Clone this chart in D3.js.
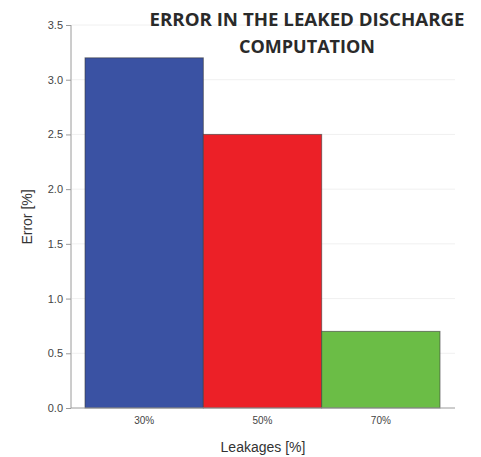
<!DOCTYPE html>
<html lang="en">
<head>
    <meta charset="UTF-8">
    <title>Error in the leaked discharge computation</title>
    <script type="text/javascript" src="https://d3js.org/d3.v7.min.js"></script>
    <style>
        body { margin: 0; background: #fff; }
    </style>
</head>
<body>
    <svg width="481" height="457"></svg>
    <script>
        // chart data
        var leakages = ["30%", "50%", "70%"];
        var errors = [3.2, 2.5, 0.7];
        var barColors = ["#3a52a3", "#ec2027", "#6bbd46"];
        var yTicks = [0, 0.5, 1.0, 1.5, 2.0, 2.5, 3.0, 3.5];

        var svg = d3.select("svg");

        var x = d3.scaleBand()
            .domain(leakages)
            .range([85, 440])
            .padding(0);

        var y = d3.scaleLinear()
            .domain([0, 3.5])
            .range([408, 25]);

        // faint grid lines
        svg.append("g")
            .selectAll("line")
            .data(yTicks.slice(1))
            .enter()
            .append("line")
            .attr("x1", 72)
            .attr("x2", 455)
            .attr("y1", d => y(d))
            .attr("y2", d => y(d))
            .attr("stroke", "#f0f0f0")
            .attr("stroke-width", 1);

        // bars
        svg.append("g")
            .selectAll("rect")
            .data(errors)
            .enter()
            .append("rect")
            .attr("x", (d, i) => x(leakages[i]))
            .attr("y", d => y(d))
            .attr("width", x.bandwidth())
            .attr("height", d => y(0) - y(d))
            .attr("fill", (d, i) => barColors[i])
            .attr("stroke", "#3a3a3a")
            .attr("stroke-opacity", 0.6)
            .attr("stroke-width", 1);

        // y axis
        var yAxis = d3.axisLeft(y)
            .tickValues(yTicks)
            .tickFormat(d3.format(".1f"))
            .tickSize(5)
            .tickPadding(3);

        var gy = svg.append("g")
            .attr("transform", "translate(71,0)")
            .call(yAxis);
        gy.select(".domain").attr("stroke", "#9a9a9a").attr("d", "M0,25V408");
        gy.selectAll(".tick line").attr("stroke", "#9a9a9a");
        gy.selectAll(".tick text")
            .attr("fill", "#444")
            .style("font-family", "Liberation Sans, Arial, sans-serif")
            .style("font-size", "11px");

        // x axis baseline
        var xAxis = d3.axisBottom(x).tickSize(0).tickPadding(9);
        var gx = svg.append("g")
            .attr("transform", "translate(0,408)")
            .call(xAxis);
        gx.select(".domain").attr("stroke", "#9a9a9a").attr("d", "M71,0H455");
        gx.selectAll(".tick text")
            .attr("fill", "#444")
            .style("font-family", "Liberation Sans, Arial, sans-serif")
            .style("font-size", "10px");

        // axis titles
        svg.append("text")
            .attr("x", 263)
            .attr("y", 452)
            .attr("text-anchor", "middle")
            .attr("fill", "#333")
            .style("font-family", "Liberation Sans, Arial, sans-serif")
            .style("font-size", "14px")
            .text("Leakages [%]");

        svg.append("text")
            .attr("transform", "translate(32,217) rotate(-90)")
            .attr("text-anchor", "middle")
            .attr("fill", "#333")
            .style("font-family", "Liberation Sans, Arial, sans-serif")
            .style("font-size", "14px")
            .text("Error [%]");

        // title
        var title = svg.append("text")
            .attr("text-anchor", "middle")
            .attr("fill", "#2a2a2a")
            .style("font-family", "Open Sans, sans-serif")
            .style("font-weight", "bold")
            .style("font-size", "18px");
        title.append("tspan").attr("x", 307).attr("y", 26)
            .attr("textLength", 315).attr("lengthAdjust", "spacingAndGlyphs")
            .text("ERROR IN THE LEAKED DISCHARGE");
        title.append("tspan").attr("x", 307).attr("y", 53)
            .attr("textLength", 136).attr("lengthAdjust", "spacingAndGlyphs")
            .text("COMPUTATION");
    </script>
</body>
</html>
